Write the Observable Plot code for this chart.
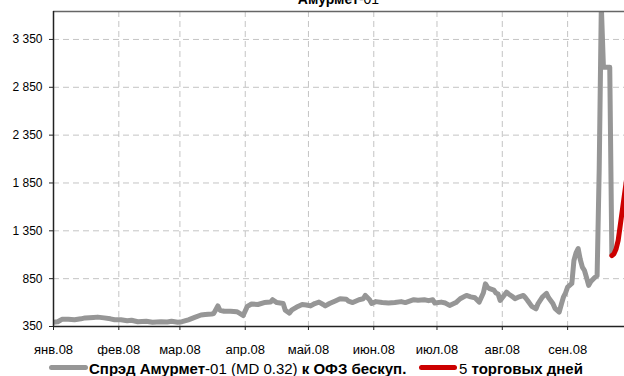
<!DOCTYPE html>
<html>
<head>
<meta charset="utf-8">
<script src="https://cdn.jsdelivr.net/npm/d3@7"></script>
<script src="https://cdn.jsdelivr.net/npm/@observablehq/plot@0.6"></script>
<style>
  html, body { margin: 0; padding: 0; background: #fff; }
  #wrap { position: relative; width: 624px; height: 376px; overflow: hidden; background: #fff;
          font-family: "Liberation Sans", Arial, sans-serif; color: #000; }
  #title { position: absolute; left: 53px; width: 571px; top: -8px; text-align: center;
           font-size: 14px; line-height: 14px; white-space: nowrap; }
  #chart { position: absolute; left: 0; top: 0; }
  .sw { position: absolute; height: 5px; border-radius: 3px; }
  .lt { position: absolute; font-size: 15px; line-height: 15px; white-space: nowrap; }
</style>
</head>
<body>
<div id="wrap">
  <div id="chart"></div>
  <div id="title"><b>Амурмет</b>-01</div>
  <div class="sw" style="left:49px; top:365px; width:39px; background:#969696;"></div>
  <div class="lt" style="left:89px; top:361px;"><b>Спрэд Амурмет</b>-01 (MD 0.32) <b>к ОФЗ бескуп.</b></div>
  <div class="sw" style="left:419px; top:365px; width:38px; background:#cc0000;"></div>
  <div class="lt" style="left:459px; top:361px;">5 <b>торговых дней</b></div>
</div>
<script>
// Spread series (grey)
const spreadDates = [
  "2008-01-01","2008-01-03","2008-01-05","2008-01-08","2008-01-11","2008-01-14","2008-01-16","2008-01-20",
  "2008-01-22","2008-01-25","2008-01-28","2008-01-30","2008-02-02","2008-02-05","2008-02-07","2008-02-10",
  "2008-02-14","2008-02-17","2008-02-21","2008-02-24","2008-02-26","2008-02-29","2008-03-02","2008-03-05",
  "2008-03-08","2008-03-11","2008-03-13","2008-03-16","2008-03-17","2008-03-19","2008-03-20","2008-03-22",
  "2008-03-25","2008-03-28","2008-03-30","2008-03-31","2008-04-02","2008-04-04","2008-04-07","2008-04-10",
  "2008-04-13","2008-04-14","2008-04-16","2008-04-19","2008-04-20","2008-04-22","2008-04-23","2008-04-26",
  "2008-04-28","2008-04-30","2008-05-02","2008-05-04","2008-05-06","2008-05-08","2008-05-09","2008-05-11",
  "2008-05-14","2008-05-16","2008-05-19","2008-05-20","2008-05-22","2008-05-25","2008-05-27","2008-05-28",
  "2008-05-30","2008-05-31","2008-06-02","2008-06-05","2008-06-08","2008-06-11","2008-06-14","2008-06-16",
  "2008-06-18","2008-06-20","2008-06-22","2008-06-25","2008-06-27","2008-06-29","2008-06-30","2008-07-03",
  "2008-07-05","2008-07-07","2008-07-10","2008-07-12","2008-07-15","2008-07-17","2008-07-19","2008-07-21",
  "2008-07-23","2008-07-24","2008-07-25","2008-07-26","2008-07-28","2008-07-29","2008-07-30","2008-07-31",
  "2008-08-02","2008-08-03","2008-08-04","2008-08-06","2008-08-07","2008-08-09","2008-08-11","2008-08-12",
  "2008-08-13","2008-08-15","2008-08-17","2008-08-18","2008-08-20","2008-08-22","2008-08-23","2008-08-25",
  "2008-08-26","2008-08-28","2008-08-29","2008-08-30","2008-08-31","2008-09-01","2008-09-03","2008-09-04",
  "2008-09-05","2008-09-06","2008-09-07","2008-09-08","2008-09-09","2008-09-10","2008-09-11","2008-09-12",
  "2008-09-14","2008-09-15","2008-09-16","2008-09-17","2008-09-18","2008-09-21","2008-09-22"
];
const spreadValues = [
  395,400,425,425,420,430,440,445,
  448,440,430,420,420,410,415,400,
  405,395,400,398,405,395,400,420,
  445,470,475,480,485,565,520,510,
  510,505,480,465,560,585,580,600,
  605,630,600,590,520,490,520,560,
  580,575,565,590,605,580,565,590,
  620,640,635,615,600,630,640,675,
  630,590,610,600,595,600,610,600,
  615,630,625,630,620,630,595,605,
  595,570,600,640,675,660,650,605,
  700,796,760,745,730,700,690,622,
  680,709,690,660,640,660,674,650,
  622,560,535,590,656,695,650,590,
  540,500,580,656,700,761,800,1040,
  1120,1165,1050,970,935,860,780,820,
  865,880,2000,3700,3060,3060,1100
];
// Last 5 trading days (red)
const recentDates = ["2008-09-22","2008-09-23","2008-09-24","2008-09-25","2008-09-26","2008-09-27","2008-09-28","2008-09-29"];
const recentValues = [1090,1110,1160,1250,1410,1570,1730,1890];

const yTicks = [350, 850, 1350, 1850, 2350, 2850, 3350];
const monthTicks = ["2008-01-01","2008-02-01","2008-03-01","2008-04-01","2008-05-01","2008-06-01","2008-07-01","2008-08-01","2008-09-01"];
const monthLabels = ["янв.08","фев.08","мар.08","апр.08","май.08","июн.08","июл.08","авг.08","сен.08"];

const spread = spreadDates.map((d, i) => ({date: new Date(d), value: spreadValues[i]}));
const recent = recentDates.map((d, i) => ({date: new Date(d), value: recentValues[i]}));
const mTicks = monthTicks.map(d => new Date(d));
const xDomain = [new Date("2008-01-01"), new Date("2008-09-28")];
const yDomain = [350, 3642];

const fmt = d3.formatLocale({decimal: ",", thousands: " ", grouping: [3], currency: ["", ""]}).format(",d");
const labelOf = new Map(mTicks.map((d, i) => [+d, monthLabels[i]]));

const chart = Plot.plot({
  width: 624,
  height: 356,
  marginLeft: 53,
  marginRight: 0,
  marginTop: 11,
  marginBottom: 30,
  style: {fontFamily: "'Liberation Sans', Arial, sans-serif", background: "white", color: "#000"},
  x: {type: "utc", domain: xDomain},
  y: {domain: yDomain},
  marks: [
    Plot.ruleY(yTicks.slice(1), {stroke: "#c4c4c4", strokeWidth: 1, strokeDasharray: "6,4"}),
    Plot.ruleX(mTicks.slice(1), {stroke: "#c4c4c4", strokeWidth: 1, strokeDasharray: "6,4"}),
    Plot.line(spread, {x: "date", y: "value", stroke: "#969696", strokeWidth: 5, strokeLinejoin: "round", strokeLinecap: "round", clip: true}),
    Plot.line(recent, {x: "date", y: "value", stroke: "#cc0000", strokeWidth: 5, strokeLinejoin: "round", strokeLinecap: "round", clip: true}),
    Plot.ruleY([yDomain[1]], {stroke: "#666", strokeWidth: 1.5}),
    Plot.axisY({ticks: yTicks, tickFormat: fmt, tickSize: 4, tickPadding: 7, fontSize: 12, label: null, stroke: "#222"}),
    Plot.axisX({ticks: mTicks, tickFormat: d => labelOf.get(+d), tickSize: 4, tickPadding: 14, fontSize: 13, label: null, stroke: "#222"}),
    Plot.ruleX([xDomain[0]], {stroke: "#222", strokeWidth: 1.5}),
    Plot.ruleY([yDomain[0]], {stroke: "#222", strokeWidth: 1.5})
  ]
});
document.getElementById("chart").appendChild(chart);
</script>
</body>
</html>
